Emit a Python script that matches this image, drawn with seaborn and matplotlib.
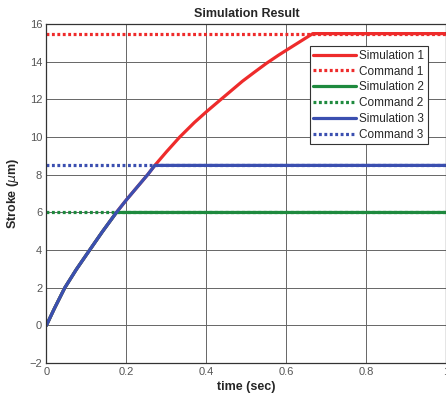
import numpy as np
import pandas as pd
import matplotlib
matplotlib.use("Agg")
import matplotlib.pyplot as plt
import seaborn as sns

# ---- data ----
sim1_t = [0, 0.02, 0.046, 0.075, 0.108, 0.14, 0.175, 0.2, 0.227, 0.254, 0.271,
          0.3, 0.333, 0.37, 0.4, 0.436, 0.49, 0.52, 0.55, 0.58, 0.6, 0.63, 0.666, 1.0]
sim1_y = [0, 0.9, 2.0, 2.98, 4.0, 4.98, 6.0, 6.67, 7.35, 8.03, 8.5,
          9.22, 10.0, 10.78, 11.35, 12.0, 12.97, 13.45, 13.92, 14.35, 14.62, 15.02, 15.5, 15.5]
sim2_t = [0, 0.02, 0.046, 0.075, 0.108, 0.14, 0.175, 1.0]
sim2_y = [0, 0.9, 2.0, 2.98, 4.0, 4.98, 6.0, 6.0]
sim3_t = [0, 0.02, 0.046, 0.075, 0.108, 0.14, 0.175, 0.2, 0.227, 0.254, 0.271, 1.0]
sim3_y = [0, 0.9, 2.0, 2.98, 4.0, 4.98, 6.0, 6.67, 7.35, 8.03, 8.5, 8.5]
cmd_t = [0, 1.0]
cmd1 = [15.5, 15.5]
cmd2 = [6.0, 6.0]
cmd3 = [8.5, 8.5]
x_ticks = [0, 0.2, 0.4, 0.6, 0.8, 1]
x_ticklabels = ["0", "0.2", "0.4", "0.6", "0.8", "1"]
y_ticks = [-2, 0, 2, 4, 6, 8, 10, 12, 14, 16]

RED = "#ee2b2b"
GREEN = "#1e8a3e"
BLUE = "#3b4fb0"

sns.set_style("whitegrid")
plt.rcParams["font.family"] = ["Liberation Sans", "DejaVu Sans"]
plt.rcParams["mathtext.fontset"] = "dejavusans"

fig = plt.figure(figsize=(4.46, 4.03), dpi=100)
ax = fig.add_axes([0.104, 0.099, 0.897, 0.841])

series = [
    (sim1_t, sim1_y, RED, "-", "Simulation 1"),
    (cmd_t, cmd1, RED, ":", "Command 1"),
    (sim2_t, sim2_y, GREEN, "-", "Simulation 2"),
    (cmd_t, cmd2, GREEN, ":", "Command 2"),
    (sim3_t, sim3_y, BLUE, "-", "Simulation 3"),
    (cmd_t, cmd3, BLUE, ":", "Command 3"),
]
for t, y, c, ls, lab in series:
    df = pd.DataFrame({"t": t, "y": y})
    sns.lineplot(data=df, x="t", y="y", ax=ax, color=c,
                 linewidth=2.3, label=lab, sort=False, estimator=None)
    line = ax.get_lines()[-1]
    line.set_solid_joinstyle("round")
    if ls == ":":
        line.set_dashes((0.9, 0.8))

ax.set_xlim(0, 1)
ax.set_ylim(-2, 16)
ax.set_xticks(x_ticks)
ax.set_xticklabels(x_ticklabels)
ax.set_yticks(y_ticks)
ax.tick_params(axis="both", labelsize=8, labelcolor="#555555", direction="in",
               length=3, color="#333333", pad=3)
ax.grid(True, color="#666666", linewidth=0.7, linestyle="-")
for s in ax.spines.values():
    s.set_visible(True)
    s.set_color("#333333")
    s.set_linewidth(0.9)

ax.set_title("Simulation Result", fontsize=9, fontweight="bold", pad=5)
ax.set_xlabel("time (sec)", fontsize=9, fontweight="bold", labelpad=3)
ax.set_ylabel(r"Stroke ($\mu$m)", fontsize=9, fontweight="bold", labelpad=6)

leg = ax.legend(loc="upper right", bbox_to_anchor=(0.953, 0.935), fontsize=8.5,
                frameon=True, fancybox=False, framealpha=1, edgecolor="#333333",
                handlelength=3.6, handletextpad=0.3, labelspacing=0.32,
                borderpad=0.3, borderaxespad=0)
leg.get_frame().set_linewidth(0.8)
for h in leg.get_lines():
    if h.get_linestyle() != "-":
        h.set_dashes((0.9, 0.8))

fig.savefig("out.png", dpi=100)
